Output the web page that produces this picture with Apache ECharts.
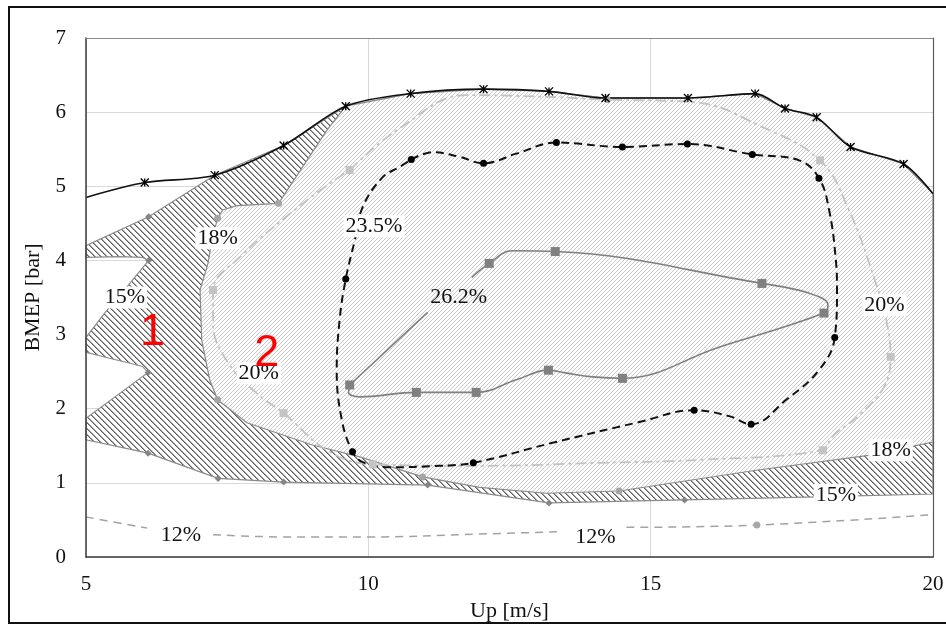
<!DOCTYPE html>
<html><head><meta charset="utf-8">
<script src="https://cdn.jsdelivr.net/npm/echarts@6/dist/echarts.min.js"></script>
<style>html,body{margin:0;padding:0;background:#fff}#c{width:946px;height:625px}</style>
</head><body><div id="c"></div>
<script>
// ---------- data ----------
const xTicks = [5, 10, 15, 20];
const yTicks = [0, 1, 2, 3, 4, 5, 6, 7];

// Full-load curve (BMEP max)
const fullLoad = [[5,4.85],[6.04,5.05],[7.28,5.15],[8.5,5.55],[9.6,6.08],[10.75,6.25],[12.04,6.31],[13.2,6.28],[14.2,6.19],[15.66,6.19],[16.85,6.25],[17.38,6.05],[17.94,5.93],[18.54,5.53],[19.48,5.30],[20,4.9]];

// 15% iso-line pieces
const c15Upper = [[5,4.2],[6.11,4.59],[7.28,5.15]];
const c15Notch1 = [[5,2.96],[5.33,3.29],[5.7,3.62],[6.11,4.0],[6.0,4.04],[5.6,4.05],[5,4.04]];
const c15Notch2 = [[5,1.87],[5.55,2.18],[6.1,2.49],[6.0,2.57],[5.8,2.61],[5.47,2.67],[5,2.76]];
const c15Lower = [[5,1.58],[6.1,1.40],[7.34,1.06],[8.5,1.01],[11.05,0.97],[13.2,0.73],[15.6,0.77],[17.93,0.81],[20,0.85]];
const m15 = [[6.11,4.59],[6.11,4.0],[6.1,2.49],[6.1,1.40],[7.34,1.06],[8.5,1.01],[11.05,0.97],[13.2,0.73],[15.6,0.77]];

// 18% iso-line pieces
const c18Left = [[9.6,6.08],[9.26,5.75],[8.41,4.77],[7.67,4.74],[7.42,4.68],[7.33,4.57],[7.23,4.27],[7.16,3.96],[7.02,3.60],[7.05,2.92],[7.19,2.39],[7.33,2.12],[7.85,1.81],[9.01,1.51],[9.85,1.35]];
const c18Lower = [[9.85,1.35],[10.96,1.08],[11.97,0.94],[13.15,0.86],[14.44,0.89],[16.87,1.17],[18.86,1.37],[20,1.55]];
const m18 = [[8.41,4.77],[7.33,4.57],[7.33,2.12],[10.96,1.08],[14.44,0.89],[14.23,6.17]];

// 20% iso-line
const c20 = [[9.67,5.22],[10.55,5.78],[11.74,6.23],[13.03,6.21],[14.23,6.17],[15.80,6.13],[16.92,5.82],[18.0,5.35],[18.51,4.68],[18.99,3.69],[19.18,3.17],[19.25,2.70],[19.13,2.29],[18.69,1.91],[18.21,1.62],[18.05,1.44],[15.86,1.31],[14.09,1.27],[11.97,1.23],[10.08,1.25],[9.31,1.42],[8.50,1.94],[8.02,2.21],[7.49,2.65],[7.25,3.15],[7.25,3.60],[7.72,4.04],[8.91,4.81],[9.67,5.22]];
const m20 = [[9.67,5.22],[18.0,5.35],[19.25,2.70],[18.05,1.44],[8.50,1.94],[7.25,3.60],[10.08,1.25]];

// 23.5% iso-line
const c235 = [[10.76,5.36],[11.14,5.46],[11.6,5.40],[12.04,5.31],[12.62,5.44],[13.33,5.59],[14.5,5.53],[15.65,5.57],[16.8,5.43],[17.63,5.35],[17.98,5.11],[18.16,4.68],[18.28,4.0],[18.3,3.6],[18.26,2.96],[17.98,2.52],[17.4,2.12],[16.78,1.79],[16.39,1.90],[15.77,1.98],[14.80,1.82],[13.26,1.54],[11.86,1.27],[11.26,1.23],[10.38,1.21],[9.90,1.28],[9.72,1.42],[9.53,1.85],[9.44,2.52],[9.49,3.19],[9.60,3.75],[9.76,4.27],[9.9,4.72],[10.25,5.12],[10.55,5.26],[10.76,5.36]];
const m235 = [[10.76,5.36],[12.04,5.31],[13.33,5.59],[14.5,5.53],[15.65,5.57],[16.8,5.43],[17.98,5.11],[18.26,2.96],[16.78,1.79],[15.77,1.98],[11.86,1.27],[9.72,1.42],[9.60,3.75]];

// 26.2% iso-line (null = gap for its label)
const c262 = [[9.67,2.32],[11.05,3.30],null,[11.83,3.77],[12.14,3.96],[12.55,4.13],[13.31,4.12],[16.97,3.69],[17.80,3.56],[18.14,3.40],[18.07,3.29],[16.21,2.83],[14.5,2.41],[13.97,2.43],[13.51,2.48],[13.19,2.52],[12.62,2.39],[11.91,2.22],[10.85,2.22],[9.85,2.16],[9.65,2.22],[9.67,2.32]];
const m262 = [[9.67,2.32],[10.85,2.22],[11.91,2.22],[13.19,2.52],[14.5,2.41],[18.07,3.29],[16.97,3.69],[13.31,4.12],[12.14,3.96]];

// 12% iso-line (nulls = gaps for labels)
const c12 = [[5,0.54],[6.08,0.39],null,[7.25,0.30],[8.6,0.27],[9.97,0.27],[11.97,0.31],[13.38,0.34],null,[14.57,0.40],[16.88,0.43],[20,0.57]];
const m12 = [[16.88,0.43]];

// labels
const pctLabels = [[5.69,3.50,'15%'],[7.33,4.30,'18%'],[8.06,2.48,'20%'],[10.10,4.46,'23.5%'],[19.14,3.40,'20%'],[19.25,1.44,'18%'],[18.28,0.84,'15%'],[6.68,0.30,'12%'],[14.02,0.27,'12%']];
const pctLabelsNoBox = [[11.60,3.50,'26.2%']];
const regionLabels = [[6.18,3.02,'1'],[8.20,2.74,'2']];

// ---------- helpers ----------
const X0 = 5, X1 = 20, Y0 = 0, Y1 = 7;
function hatch(size, dir, c1, c2) {
  const cv = document.createElement('canvas');
  cv.width = size; cv.height = size;
  const g = cv.getContext('2d');
  g.fillStyle = '#fff'; g.fillRect(0, 0, size, size);
  for (let i = 0; i < size; i++) {
    const x = dir > 0 ? i : size - 1 - i;
    g.fillStyle = c1; g.fillRect(x, i, 1, 1);
    if (c2) { g.fillStyle = c2; g.fillRect((x + 1) % size, i, 1, 1); }
  }
  return cv;
}
const darkPat = { image: hatch(6, 1, '#5e5e5e', '#a2a2a2'), repeat: 'repeat' };
const lightPat = { image: hatch(4, -1, '#cbcbcb'), repeat: 'repeat' };

// region >15% (dark hatch)
const poly15 = [].concat(
  [[X0, 4.04]],
  c15Upper,
  fullLoad.slice(3),
  [[X1, c15Lower[c15Lower.length - 1][1]]],
  c15Lower.slice().reverse(),
  c15Notch2,
  c15Notch1
);
// region >18% (light hatch)
const poly18 = [].concat(
  c18Left,
  c18Lower.slice(1),
  fullLoad.slice(5).reverse()
);

function polySeries(points, fill, z) {
  return {
    type: 'custom', coordinateSystem: 'cartesian2d', xAxisIndex: 0, yAxisIndex: 0,
    z: z, silent: true, data: [[X0, Y0]], encode: { x: 0, y: 1 },
    renderItem: function (params, api) {
      return {
        type: 'polygon',
        shape: { points: points.map(p => api.coord(p)) },
        style: { fill: fill, stroke: '#8a8a8a', lineWidth: 1.2 }
      };
    }
  };
}
function lineSeries(data, color, width, type, z, smooth) {
  return {
    type: 'line', data: data, xAxisIndex: 0, yAxisIndex: 0, z: z, silent: true,
    showSymbol: false, smooth: smooth === undefined ? 0.4 : smooth, connectNulls: false,
    lineStyle: { color: color, width: width, type: type }
  };
}
function markSeries(data, symbol, size, color, z, border) {
  return {
    type: 'scatter', data: data, xAxisIndex: 0, yAxisIndex: 0, z: z, silent: true,
    symbol: symbol, symbolSize: size,
    itemStyle: border ? { color: 'rgba(0,0,0,0)', borderColor: color, borderWidth: 1.3, opacity: 1 } : { color: color, opacity: 1 }
  };
}
const SERIF = '"Liberation Serif", "Times New Roman", serif';
function textSeries(data, font, size, color, bg, z) {
  return {
    type: 'scatter', data: data, xAxisIndex: 0, yAxisIndex: 0, z: z, silent: true,
    symbolSize: 1, itemStyle: { color: 'rgba(0,0,0,0)', opacity: 1 }, encode: { x: 0, y: 1 },
    label: {
      show: true, position: 'inside', formatter: p => p.value[2],
      fontFamily: font, fontSize: size, color: color, opacity: 1,
      textBorderWidth: 0,
      backgroundColor: bg || 'transparent', padding: bg ? [0, 2, 0, 2] : 0
    }
  };
}

const axisBase = { type: 'value', axisTick: { show: false }, splitLine: { show: false }, axisLabel: { show: false }, axisLine: { show: false } };

const option = {
  animation: false,
  backgroundColor: '#fff',
  grid: { left: 86, right: 13, top: 38, bottom: 68, outerBoundsMode: 'none' },
  xAxis: [
    Object.assign({}, axisBase, { min: X0, max: X1, interval: 5, z: 0,
      splitLine: { show: true, lineStyle: { color: '#d9d9d9', width: 1 } } }),
    Object.assign({}, axisBase, { min: X0, max: X1, interval: 5, position: 'bottom', z: 10,
      axisLine: { show: true, onZero: false, lineStyle: { color: '#3a3a3a', width: 1.5 } },
      axisLabel: { show: true, margin: 17, color: '#111', fontFamily: SERIF, fontSize: 21,
        formatter: v => xTicks.indexOf(v) >= 0 ? String(v) : '' },
      name: 'Up [m/s]', nameLocation: 'middle', nameGap: 40,
      nameTextStyle: { color: '#111', fontFamily: SERIF, fontSize: 22 } }),
    Object.assign({}, axisBase, { min: X0, max: X1, interval: 5, position: 'top', z: 10,
      axisLine: { show: true, onZero: false, lineStyle: { color: '#8a8a8a', width: 1 } } })
  ],
  yAxis: [
    Object.assign({}, axisBase, { min: Y0, max: Y1, interval: 1, z: 0,
      splitLine: { show: true, lineStyle: { color: '#d9d9d9', width: 1 } } }),
    Object.assign({}, axisBase, { min: Y0, max: Y1, interval: 1, position: 'left', z: 10,
      axisLine: { show: true, onZero: false, lineStyle: { color: '#3a3a3a', width: 1.5 } },
      axisLabel: { show: true, margin: 20, color: '#111', fontFamily: SERIF, fontSize: 21,
        formatter: v => yTicks.indexOf(v) >= 0 ? String(v) : '' },
      name: 'BMEP [bar]', nameLocation: 'middle', nameGap: 35, nameRotate: 90,
      nameTextStyle: { color: '#111', fontFamily: SERIF, fontSize: 22 } }),
    Object.assign({}, axisBase, { min: Y0, max: Y1, interval: 1, position: 'right', z: 10,
      axisLine: { show: true, onZero: false, lineStyle: { color: '#5a5a5a', width: 1.2 } } })
  ],
  graphic: [{
    type: 'rect', z: 100, silent: true,
    shape: { x: 9, y: 7, width: 960, height: 616 },
    style: { fill: 'none', stroke: '#111', lineWidth: 2 }
  }],
  series: [
    polySeries(poly15, darkPat, 1),
    polySeries(poly18, lightPat, 2),
    lineSeries(c12, '#a3a3a3', 1.5, [8, 6], 3),
    lineSeries(c20, '#c3c3c3', 1.8, [11, 4, 3, 4], 4),
    lineSeries(c235, '#111', 2, [8, 5], 5),
    lineSeries(c262, '#7f7f7f', 1.6, 'solid', 5),
    lineSeries(fullLoad, '#111', 1.6, 'solid', 6, 0.3),
    markSeries(m12, 'circle', 7, '#a8a8a8', 7),
    markSeries(m15, 'diamond', 7, '#858585', 7),
    markSeries(m18, 'circle', 7, '#a5a5a5', 7),
    markSeries(m20, 'rect', 8, '#c4c4c4', 7),
    markSeries(m235, 'circle', 7, '#000', 7),
    markSeries(m262, 'rect', 9, '#808080', 7),
    markSeries(fullLoad.slice(1, -1), 'path://M0 0L10 10M10 0L0 10M5 0L5 10', 8, '#000', 8, true),
    textSeries(pctLabels, SERIF, 22, '#111', '#fff', 9),
    textSeries(pctLabelsNoBox, SERIF, 22, '#111', null, 9),
    textSeries(regionLabels, '"Liberation Sans", Arial, sans-serif', 45, '#ff0000', null, 10)
  ]
};
const chart = echarts.init(document.getElementById('c'), null, { renderer: 'canvas' });
chart.setOption(option);
</script></body></html>
